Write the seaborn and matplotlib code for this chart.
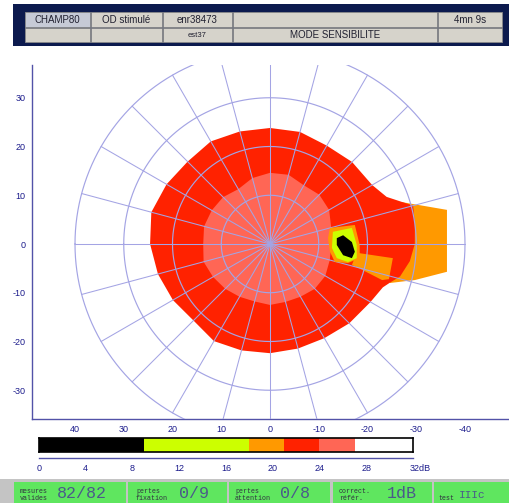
import numpy as np
import pandas as pd
import matplotlib
matplotlib.use("Agg")
import matplotlib.pyplot as plt
from matplotlib.patches import Rectangle
from matplotlib.transforms import offset_copy
import seaborn as sns

# ---- sensitivity classes (dB) ----
db_edges = [0, 9, 18, 21, 24, 27, 32]
db_colors = ["#000000", "#ccff00", "#ff9900", "#ff2200", "#ff6655", "#ffffff"]
scale_ticks = [0, 4, 8, 12, 16, 20, 24, 28, 32]

# ---- isopters: radius (deg) along each meridian (deg) ----
meridians_21 = [0, 15, 30, 45, 60, 75, 90, 105, 120, 135, 150, 158, 165, 172, 180,
                187, 194, 198, 201, 210, 225, 240, 255, 270, 285, 300, 315, 330, 345]
radii_21 = [24.6, 25.2, 24.5, 23.9, 24.3, 23.9, 23.8, 23.8, 23.3, 23.8, 24.2, 25.8, 30.4, 30.0, 29.7,
            28.9, 27.5, 25.8, 24.8, 23.8, 23.0, 22.3, 22.2, 22.4, 22.6, 23.0, 22.2, 23.0, 23.8]

meridians_24 = [0, 15, 30, 45, 60, 75, 90, 105, 120, 135, 150, 165,
                180, 195, 210, 225, 240, 255, 270, 285, 300, 315, 330, 345]
radii_24 = [13.7, 14.0, 13.8, 13.6, 13.0, 14.0, 14.6, 14.7, 13.9, 14.3, 14.0, 13.0,
            12.6, 12.7, 13.1, 13.0, 12.5, 12.3, 12.5, 12.2, 12.5, 13.0, 13.5, 14.1]

# ---- temporal patch, 18-21 dB (x, y in deg) ----
temporal_x = [-27.0, -36.3, -36.3, -29.7, -24.6, -24.0]
temporal_y = [8.6, 7.0, -5.7, -7.4, -8.0, -4.0]

# ---- blind spot ----
blind_orange_x = [-12.3, -17.4, -18.4, -18.4, -16.0, -13.3, -12.3, -11.9]
blind_orange_y = [3.3, 3.9, -0.2, -2.9, -3.9, -3.7, -1.6, 1.2]
blind_tail_x = [-17.8, -25.2, -24.4, -23.0, -18.9, -16.8]
blind_tail_y = [-1.8, -2.9, -7.2, -7.4, -5.3, -4.3]
blind_yellow_x = [-12.9, -16.8, -17.8, -17.8, -16.0, -13.7, -12.7]
blind_yellow_y = [2.5, 3.3, -0.2, -2.9, -3.7, -2.9, -0.8]
blind_black_x = [-13.7, -15.0, -16.8, -17.4, -16.8, -15.0, -13.7]
blind_black_y = [1.2, 1.8, 0.4, -1.6, -2.9, -2.3, -0.2]

axis_ticks = [40, 30, 20, 10, 0, -10, -20, -30, -40]
y_ticks = [30, 20, 10, 0, -10, -20, -30]
grid_rings = [10, 20, 30, 40]
grid_step = 15

header_row1 = ["CHAMP80", "OD stimulé", "enr38473", "", "4mn 9s"]
header_row2 = ["", "", "est37", "MODE SENSIBILITE", ""]
stat_labels = ["mesures\nvalides", "pertes\nfixation", "pertes\nattention", "correct.\nréfér.", "test"]
stat_values = ["82/82", "0/9", "0/8", "1dB", "IIIc"]

sns.set_theme(style="white")
plt.rcParams["font.family"] = ["Liberation Sans", "DejaVu Sans"]
plt.rcParams["axes.unicode_minus"] = False

W, H = 510, 503
fig = plt.figure(figsize=(W / 100, H / 100), dpi=100)
fig.patch.set_facecolor("white")

NAVY_TXT = "#1c1c8c"
AX_COL = "#5252a8"
GRID_COL = "#a4a4e4"
MONO = ["Liberation Mono", "DejaVu Sans Mono"]


def fx(px):
    return px / W


def fy(py):
    return 1 - py / H


# ---- main field ----
ax = fig.add_axes([fx(32), fy(419), fx(478), (419 - 65) / H])
ax.set_facecolor("white")
s = 4.875
ax.set_xlim((270 - 32) / s, (270 - 510) / s)
ax.set_ylim(-(419 - 244) / s, (244 - 65) / s)


def polar_xy(angles, radii):
    t = np.deg2rad(np.asarray(angles, float))
    r = np.asarray(radii, float)
    return r * np.cos(t), r * np.sin(t)


ax.fill(temporal_x, temporal_y, color=db_colors[2], lw=0, zorder=1)
x21, y21 = polar_xy(meridians_21, radii_21)
ax.fill(x21, y21, color=db_colors[3], lw=0, zorder=2)
x24, y24 = polar_xy(meridians_24, radii_24)
ax.fill(x24, y24, color=db_colors[4], lw=0, zorder=3)
ax.fill(blind_tail_x, blind_tail_y, color=db_colors[2], lw=0, zorder=4)

# polar grid
th = np.linspace(0, 2 * np.pi, 361)
rings = pd.DataFrame({
    "x": np.concatenate([r * np.cos(th) for r in grid_rings]),
    "y": np.concatenate([r * np.sin(th) for r in grid_rings]),
    "ring": np.repeat(grid_rings, len(th)),
})
sns.lineplot(data=rings, x="x", y="y", units="ring", estimator=None, sort=False,
             color=GRID_COL, lw=0.85, ax=ax, zorder=5, legend=False)
rmax = max(grid_rings)
for a in np.deg2rad(np.arange(0, 360, grid_step)):
    ax.plot([0, rmax * np.cos(a)], [0, rmax * np.sin(a)], color=GRID_COL, lw=0.75, zorder=5)

ax.fill(blind_orange_x, blind_orange_y, color=db_colors[2], lw=0, zorder=6)
ax.fill(blind_yellow_x, blind_yellow_y, color=db_colors[1], lw=0, zorder=7)
ax.fill(blind_black_x, blind_black_y, color=db_colors[0], lw=0, zorder=8)

ax.set_xlabel("")
ax.set_ylabel("")
ax.set_xticks(axis_ticks)
ax.set_xticklabels([str(v) for v in axis_ticks])
ax.set_yticks(y_ticks)
ax.set_yticklabels([str(v) for v in y_ticks])
for sp in ["top", "right"]:
    ax.spines[sp].set_visible(False)
for sp in ["left", "bottom"]:
    ax.spines[sp].set_color(AX_COL)
    ax.spines[sp].set_linewidth(1.0)
ax.tick_params(axis="both", direction="out", length=3, width=0.8, color=AX_COL,
               labelcolor=NAVY_TXT, labelsize=6.5, pad=1.5)
ax.tick_params(axis="x", pad=1.5)

# ---- colour scale ----
cax = fig.add_axes([fx(39), fy(452), fx(374), 14 / H])
cax.barh([0] * (len(db_edges) - 1), np.diff(db_edges), left=db_edges[:-1],
         color=db_colors, height=1.0, edgecolor="none")
cax.set_xlim(0, 32)
cax.set_ylim(-0.5, 0.5)
cax.set_xticks([])
cax.set_yticks([])
for sp in cax.spines.values():
    sp.set_color("black")
    sp.set_linewidth(1.2)

sax = fig.add_axes([fx(39), fy(458), fx(374), 0.0005])
sax.set_xlim(0, 32)
sax.set_yticks([])
sax.set_facecolor("none")
for sp in ["top", "left", "right"]:
    sax.spines[sp].set_visible(False)
sax.spines["bottom"].set_color(AX_COL)
sax.spines["bottom"].set_linewidth(1.0)
sax.set_xticks(scale_ticks)
sax.set_xticklabels([str(v) for v in scale_ticks[:-1]] + [""])
sax.tick_params(axis="x", direction="inout", length=5, width=0.8, color=AX_COL,
                labelcolor=NAVY_TXT, labelsize=6.5, pad=2)
sax.text(31.75, 0, f"{scale_ticks[-1]}dB", ha="left", va="top", fontsize=6.5, color=NAVY_TXT,
         transform=offset_copy(sax.get_xaxis_transform(), fig=fig, x=0, y=-4.5, units="points"))

# ---- header ----
hax = fig.add_axes([0, fy(50), 1, 50 / H])
hax.set_xlim(0, W)
hax.set_ylim(50, 0)
hax.axis("off")
hax.add_patch(Rectangle((13, 4), W - 13, 42, color="#0c1a4e", lw=0))
cols = [(25, 90), (91, 162), (163, 232), (233, 437), (438, 502)]
rows = [(12, 27), (28, 42)]
for ri, (y0, y1) in enumerate(rows):
    texts = header_row1 if ri == 0 else header_row2
    for ci, (x0, x1) in enumerate(cols):
        fc = "#c6cad6" if (ri == 0 and ci == 0) else "#d6d3cb"
        hax.add_patch(Rectangle((x0, y0), x1 - x0, y1 - y0, facecolor=fc,
                                edgecolor="#8a8a8a", lw=0.6))
        t = texts[ci]
        if t:
            fs = 5.5 if t == "est37" else 7
            hax.text((x0 + x1) / 2, (y0 + y1) / 2 + 0.5, t, ha="center", va="center",
                     fontsize=fs, color="#202030")

# ---- statistics strip ----
bax = fig.add_axes([0, 0, 1, 24 / H])
bax.set_xlim(0, W)
bax.set_ylim(503, 479)
bax.axis("off")
bax.add_patch(Rectangle((0, 479), W, 24, color="#c4c4c4", lw=0))
boxes = [(14, 126), (128, 227), (229, 330), (333, 432), (434, 510)]
label_x = [20, 136, 235, 339, 438]
value_x = [82, 194, 295, 402, 472]
value_fs = [12, 12, 12, 12, 8]
for (x0, x1), lab, val, lx, vx, vfs in zip(boxes, stat_labels, stat_values, label_x, value_x, value_fs):
    bax.add_patch(Rectangle((x0, 482), x1 - x0, 22, color="#5fe65f", lw=0))
    ly = 495 if "\n" in lab else 498
    bax.text(lx, ly, lab, ha="left", va="center", fontsize=4.8,
             family=MONO, color="#303040", linespacing=1.1)
    bax.text(vx, 493.5 if vfs > 10 else 495, val, ha="center", va="center", fontsize=vfs,
             family=MONO, color="#4a5a8a")

fig.savefig("out.png", dpi=100)
